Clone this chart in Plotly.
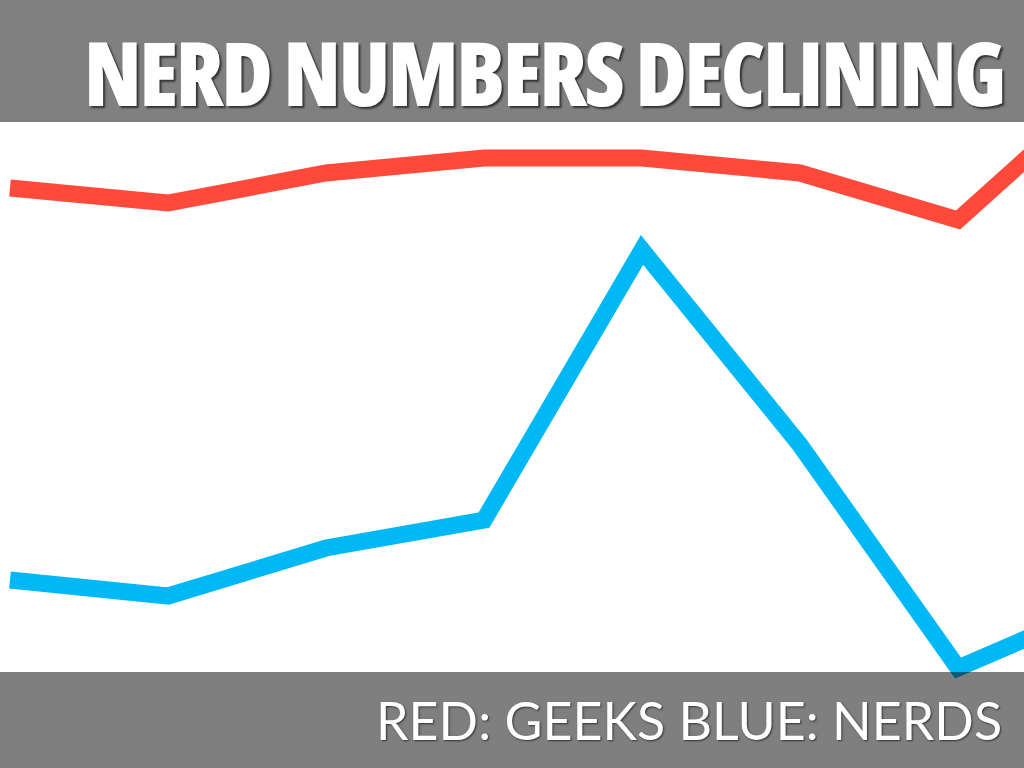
"""
Nerd Numbers Declining - geeks vs nerds line chart
"""

import plotly.graph_objects as go

# period index (8 evenly spaced points, last one runs off the right edge)
periods = [0, 1, 2, 3, 4, 5, 6, 7]

# values (arbitrary units, bigger = higher)
geeks = [580, 565, 595, 610, 610, 595, 548, 690]
nerds = [188, 172, 220, 248, 518, 323, 100, 168]

title_text = "NERD NUMBERS DECLINING"
footer_text = "RED: GEEKS BLUE: NERDS"

fig = go.Figure()

fig.add_trace(
    go.Scatter(
        x=periods,
        y=geeks,
        mode="lines",
        name="Geeks",
        line=dict(color="#FF4A3B", width=17),
    )
)

fig.add_trace(
    go.Scatter(
        x=periods,
        y=nerds,
        mode="lines",
        name="Nerds",
        line=dict(color="#00B8F5", width=17),
    )
)

# gray bands on top and bottom
fig.add_shape(
    type="rect", xref="paper", yref="paper",
    x0=0, x1=1, y0=1 - 122 / 768, y1=1,
    fillcolor="#808080", line=dict(width=0), layer="above",
)
fig.add_shape(
    type="rect", xref="paper", yref="paper",
    x0=0, x1=1, y0=0, y1=96 / 768,
    fillcolor="rgba(0,0,0,0.5)", line=dict(width=0), layer="above",
)

# condensed face via inline style (annotation fonts have no stretch option)
fig.add_annotation(
    text='<span style="font-stretch:condensed;letter-spacing:-2.5px">'
         + title_text + "</span>",
    xref="paper", yref="paper",
    x=1 - 18 / 1024, y=1 - 72 / 768,
    xanchor="right", yanchor="middle",
    showarrow=False,
    font=dict(family="Open Sans", size=88, color="white",
              weight=800, shadow="2px 2px 2px #333"),
)

fig.add_annotation(
    text=footer_text,
    xref="paper", yref="paper",
    x=1 - 20 / 1024, y=48 / 768,
    xanchor="right", yanchor="middle",
    showarrow=False,
    font=dict(family="Lato", size=52, color="white",
              shadow="1px 1px 2px #333"),
)

fig.update_layout(
    width=1024,
    height=768,
    margin=dict(l=0, r=0, t=0, b=0),
    paper_bgcolor="white",
    plot_bgcolor="white",
    showlegend=False,
    xaxis=dict(range=[-10 / 158, 1014 / 158], visible=False, fixedrange=True),
    yaxis=dict(range=[0, 768], visible=False, fixedrange=True),
)

fig.write_html(
    "out.html",
    config={"displayModeBar": False},
    post_script="document.body.style.margin = '0';",
)
